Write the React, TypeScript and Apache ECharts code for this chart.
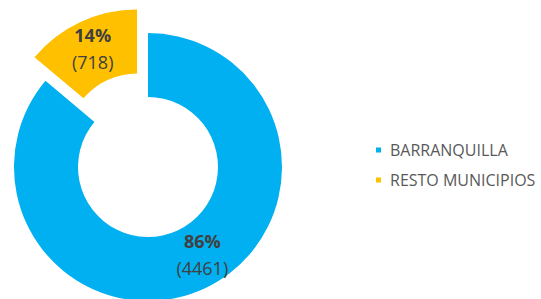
import React, { useEffect, useRef } from "react";
import * as echarts from "echarts";

const categories = ["BARRANQUILLA", "RESTO MUNICIPIOS"];
const values = [4461, 718];
const colors = ["#00B0F0", "#FFC000"];

export default function App() {
  const ref = useRef<HTMLDivElement>(null);
  useEffect(() => {
    if (!ref.current) return;
    const chart = echarts.init(ref.current, undefined, { renderer: "svg" });
    chart.setOption({
      animation: false,
      backgroundColor: "#ffffff",
      legend: {
        orient: "vertical",
        left: 371,
        top: 137,
        itemWidth: 5,
        itemHeight: 5,
        itemGap: 14,
        icon: "rect",
        data: categories,
        textStyle: {
          fontFamily: "Open Sans",
          fontSize: 16,
          color: "#595959",
          lineHeight: 16,
          padding: [0, 0, 0, 4],
        },
        selectedMode: false,
      },
      series: [
        {
          type: "pie",
          center: [148, 167],
          radius: [70, 134],
          startAngle: 90,
          clockwise: true,
          selectedMode: "single",
          selectedOffset: 26,
          avoidLabelOverlap: false,
          emphasis: { disabled: true },
          label: {
            show: true,
            position: "inside",
            fontFamily: "Open Sans",
            color: "#404040",
            formatter: (p: any) => `{p|${Math.round(p.percent)}%}\n{v|(${p.value})}`,
            rich: {
              p: { fontFamily: "Open Sans", fontSize: 18, fontWeight: "bold", color: "#404040", lineHeight: 27 },
              v: { fontFamily: "Open Sans", fontSize: 18, color: "#404040", lineHeight: 27 },
            },
          },
          labelLine: { show: false },
          data: categories.map((name, i) => ({
            name,
            value: values[i],
            selected: i === 1,
            itemStyle: { color: colors[i] },
            label: i === 0 ? { offset: [10, -8] } : { offset: [1, 5] },
          })),
        },
      ],
    });
    return () => chart.dispose();
  }, []);
  return (
    <div
      ref={ref}
      style={{ position: "fixed", left: 0, top: 0, width: 541, height: 299 }}
    />
  );
}
